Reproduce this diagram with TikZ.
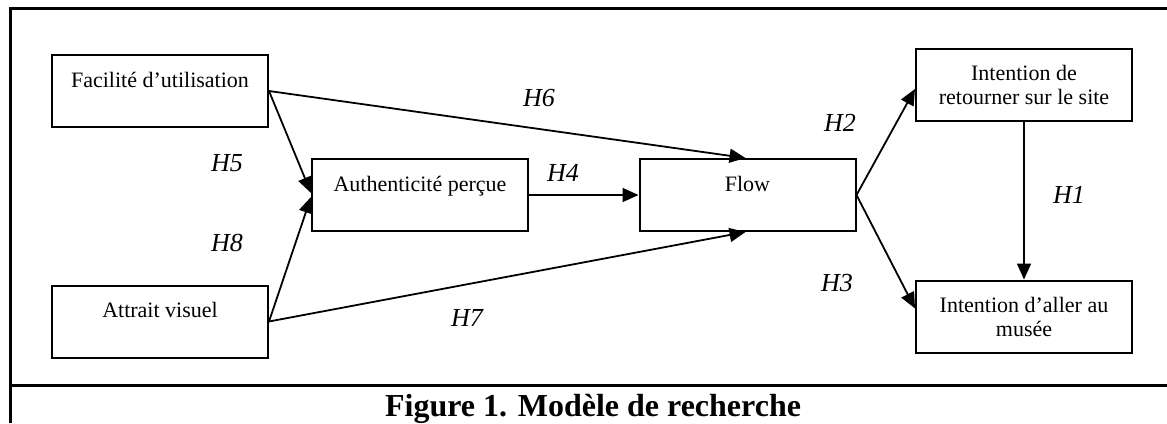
\documentclass[tikz,border=0pt]{standalone}
\usepackage{fontspec}
\setmainfont{Liberation Serif}
\usetikzlibrary{arrows.meta}
\tikzstyle{box}=[draw, line width=1pt, minimum width=108pt, minimum height=36pt,
  inner sep=0pt, font=\fontsize{11}{12}\selectfont]
\tikzstyle{topbox}=[box, text height=16pt, text depth=20pt]
\tikzstyle{twobox}=[box, align=center]
\tikzstyle{hyp}=[font=\fontsize{13}{15}\selectfont\itshape]
\tikzstyle{link}=[->, line width=0.9pt]
\tikzstyle{frame}=[line width=1.5pt]

\begin{document}
\begin{tikzpicture}[>={Triangle[length=8pt,width=7pt]}, x=0.5pt, y=-0.5pt]
        \useasboundingbox (0,0) rectangle (1167,423);
        % frame and caption rule
        \draw[frame] (1167,8) -- (10,8) -- (10,423);
        \draw[frame] (10,385) -- (1167,385);
        % constructs
        \node[topbox] (facil) at (160,91) {Facilité d’utilisation};
        \node[topbox] (attrait) at (160,321.5) {Attrait visuel};
        \node[topbox] (authent) at (420,195) {Authenticité perçue};
        \node[topbox] (flow) at (747.5,195) {Flow};
        \node[twobox] (retour) at (1024,85) {Intention de\\retourner sur le site};
        \node[twobox] (musee) at (1024,316.5) {Intention d’aller au\\musée};
        % hypotheses
        \draw[link] (facil.east) -- ([yshift=1pt]authent.west);
        \draw[link] (attrait.east) -- ([yshift=-1pt]authent.west);
        \draw[link] (facil.east) -- ([xshift=-1pt]flow.north);
        \draw[link] (attrait.east) -- ([xshift=-1pt]flow.south);
        \draw[link] (authent.east) -- (flow.west);
        \draw[link] (flow.east) -- ([yshift=-2pt]retour.west);
        \draw[link] (flow.east) -- ([yshift=4pt]musee.west);
        \draw[link] (retour.south) -- (musee.north);
        \node[hyp] (h5) at (227,163) {H5};
        \node[hyp] (h8) at (227,243) {H8};
        \node[hyp] (h6) at (539,98) {H6};
        \node[hyp] (h4) at (563,173) {H4};
        \node[hyp] (h7) at (467,318) {H7};
        \node[hyp] (h2) at (840,123) {H2};
        \node[hyp] (h3) at (837,283) {H3};
        \node[hyp] (h1) at (1069,195) {H1};
        \node[anchor=base, font=\fontsize{16}{18}\selectfont\bfseries] (caption) at (593,416) {Figure 1. Modèle de recherche};
\end{tikzpicture}
\end{document}
